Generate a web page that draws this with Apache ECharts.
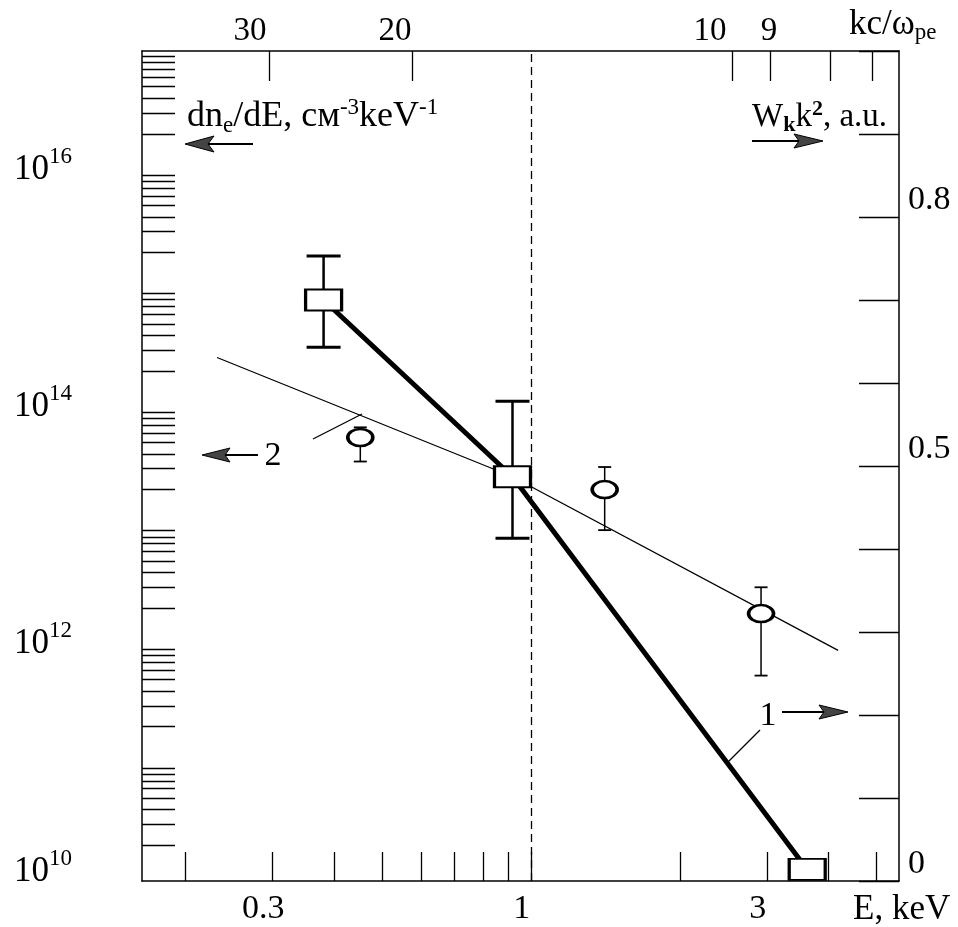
<!DOCTYPE html>
<html><head><meta charset="utf-8">
<script src="https://cdn.jsdelivr.net/npm/echarts@6/dist/echarts.min.js"></script>
<style>html,body{margin:0;padding:0;background:#fff}#c{width:958px;height:927px}</style>
</head><body><div id="c"></div>
<script>
const FONT = 'Liberation Serif';

// ---------------- data ----------------
// bottom axis: energy E, keV (log)
const eTickValues  = [0.2, 0.3, 0.4, 0.5, 0.6, 0.7, 0.8, 0.9, 1, 2, 3, 4, 5];
const eLabelValues = [0.3, 1, 3];
const eLabelTexts  = ['0.3', '1', '3'];
// top axis: kc/ωpe ticks (placed at the energies they correspond to)
const kTickE       = [0.296, 0.577, 2.548, 3.045, 4.026, 4.896];
const kLabelE      = [0.2705, 0.5313, 2.303, 3.031];
const kLabelTexts  = ['30', '20', '10', '9'];
// left axis: dn/dE (log)
const nLabelValues = [1e10, 1e12, 1e14, 1e16];
const nLabelExp    = ['10', '12', '14', '16'];
const nMinorMult   = [2, 3, 4, 5, 6, 7, 8, 9];
const nDecades     = [1e10, 1e11, 1e12, 1e13, 1e14, 1e15, 1e16];
// right axis: Wk k^2, a.u.
const wLabelValues = [0, 0.5, 0.8];

// curve 1 (squares, right axis)
const sqE     = [0.381, 0.918, 3.62];
const sqW     = [0.700, 0.487, 0.014];
const sqWLow  = [0.643, 0.413, null];
const sqWHigh = [0.753, 0.578, null];

// curve 2 (circles, left axis)
const cirE     = [0.452, 1.41, 2.92];
const cirN     = [5.5e13, 2.0e13, 1.8e12];
const cirNLow  = [3.45e13, 9.1e12, 5.4e11];
const cirNHigh = [6.7e13, 3.1e13, 3.0e12];

// curve 2 fit line
const fitE = [0.232, 0.916, 4.18];
const fitN = [2.6e14, 2.58e13, 8.8e11];

// ---------------- build ----------------
const nTickValues = [];
nDecades.forEach(d => nMinorMult.forEach(m => nTickValues.push(m * d)));

function nearestText(values, texts, v, isLog) {
  let best = 0, bd = Infinity;
  values.forEach((x, i) => {
    const d = isLog ? Math.abs(Math.log(x) - Math.log(v)) : Math.abs(x - v);
    if (d < bd) { bd = d; best = i; }
  });
  return texts[best];
}

function errRender(capW, lw, capLw) {
  return function (params, api) {
    const x = api.value(0), lo = api.value(1), hi = api.value(2);
    const pLo = api.coord([x, lo]), pHi = api.coord([x, hi]);
    return {
      type: 'group',
      children: [
        { type: 'line', shape: { x1: pLo[0], y1: pLo[1], x2: pHi[0], y2: pHi[1] }, style: { stroke: '#000', lineWidth: lw } },
        { type: 'line', shape: { x1: pLo[0] - capW / 2, y1: pLo[1], x2: pLo[0] + capW / 2, y2: pLo[1] }, style: { stroke: '#000', lineWidth: capLw } },
        { type: 'line', shape: { x1: pHi[0] - capW / 2, y1: pHi[1], x2: pHi[0] + capW / 2, y2: pHi[1] }, style: { stroke: '#000', lineWidth: capLw } }
      ]
    };
  };
}

const sqErrData = sqE.map((e, i) => sqWLow[i] == null ? null : [e, sqWLow[i], sqWHigh[i]]).filter(Boolean);
const cirErrData = cirE.map((e, i) => [e, cirNLow[i], cirNHigh[i]]);

const axisLineStyle = { color: '#000', width: 1.5 };
const tickLineStyle = { color: '#000', width: 1.3 };

const chart = echarts.init(document.getElementById('c'), null, { renderer: 'canvas' });

const tk = (fs, extra) => Object.assign({ fontSize: fs, fontFamily: FONT, color: '#000' }, extra || {});

const option = {
  backgroundColor: '#fff',
  animation: false,
  textStyle: { fontFamily: FONT },
  grid: { left: 142, right: 59, top: 51, bottom: 45, containLabel: false },
  xAxis: [
    {
      type: 'log', position: 'bottom', min: 0.1636, max: 5.55,
      axisLine: { show: true, lineStyle: axisLineStyle },
      axisTick: { show: true, inside: true, length: 29, customValues: eTickValues, lineStyle: tickLineStyle },
      minorTick: { show: false }, splitLine: { show: false },
      axisLabel: {
        customValues: eLabelValues, margin: 11, fontSize: 34, fontFamily: FONT, color: '#000',
        padding: [0, 18, 0, 0],
        formatter: v => nearestText(eLabelValues, eLabelTexts, v, true)
      },
      name: 'E, keV', nameLocation: 'end', nameGap: -46,
      nameTextStyle: { fontSize: 35, fontFamily: FONT, color: '#000', verticalAlign: 'top', align: 'left', padding: [11, 0, 0, 0] }
    },
    {
      type: 'log', position: 'top', min: 0.1636, max: 5.55,
      axisLine: { show: true, lineStyle: axisLineStyle },
      axisTick: { show: true, inside: true, length: 30, customValues: kTickE, lineStyle: tickLineStyle },
      minorTick: { show: false }, splitLine: { show: false },
      axisLabel: {
        customValues: kLabelE, margin: 3, fontSize: 33, fontFamily: FONT, color: '#000',
        formatter: v => nearestText(kLabelE, kLabelTexts, v, true)
      },
      name: '{m|kc/ω}{s|pe}', nameLocation: 'end', nameGap: -50,
      nameTextStyle: {
        fontFamily: FONT,
        verticalAlign: 'bottom', align: 'left', padding: [0, 0, 7, 0],
        rich: {
          m: tk(35, { lineHeight: 38 }),
          s: tk(23, { lineHeight: 22, padding: [16, 0, 0, 0] })
        }
      }
    }
  ],
  yAxis: [
    {
      type: 'log', position: 'left', min: 1e10, max: 1e17,
      axisLine: { show: true, lineStyle: axisLineStyle },
      axisTick: { show: true, inside: true, length: 33, customValues: nTickValues, lineStyle: tickLineStyle },
      minorTick: { show: false }, splitLine: { show: false },
      axisLabel: {
        customValues: nLabelValues, margin: 70, align: 'right', color: '#000', fontFamily: FONT,
        formatter: v => {
          const e = nearestText(nLabelValues, nLabelExp, v, true);
          return e === '10' ? '{b0|10}{s0|' + e + '}' : '{b|10}{s|' + e + '}';
        },
        rich: {
          b: tk(35, { lineHeight: 38 }),
          s: tk(23, { lineHeight: 22, padding: [0, 0, 26, 0] }),
          b0: tk(35, { lineHeight: 38, padding: [0, 0, 18, 0] }),
          s0: tk(23, { lineHeight: 22, padding: [0, 0, 44, 0] })
        }
      }
    },
    {
      type: 'value', position: 'right', min: 0, max: 1, interval: 0.1,
      axisLine: { show: true, lineStyle: axisLineStyle },
      axisTick: { show: true, inside: true, length: 40, lineStyle: tickLineStyle },
      splitLine: { show: false },
      axisLabel: {
        customValues: wLabelValues, margin: 9, fontSize: 34, fontFamily: FONT, color: '#000',
        verticalAlign: 'bottom',
        formatter: v => String(Math.round(v * 10) / 10)
      }
    }
  ],
  series: [
    {
      name: 'err1', type: 'custom', xAxisIndex: 0, yAxisIndex: 1, z: 2,
      renderItem: errRender(34, 2.5, 3), encode: { x: 0, y: [1, 2] }, data: sqErrData, silent: true
    },
    {
      name: 'curve1', type: 'line', xAxisIndex: 0, yAxisIndex: 1, z: 3,
      data: sqE.map((e, i) => [e, sqW[i]]),
      symbol: 'rect', symbolSize: [36, 21], showAllSymbol: true,
      itemStyle: { color: '#fff', borderColor: '#000', borderWidth: 2.5 },
      lineStyle: { color: '#000', width: 5 },
      markLine: {
        silent: true, symbol: ['none', 'none'], label: { show: false },
        lineStyle: { color: '#000', width: 1.3, type: [8, 5] },
        data: [{ xAxis: 1 }]
      }
    },
    {
      name: 'err2', type: 'custom', xAxisIndex: 0, yAxisIndex: 0, z: 2,
      renderItem: errRender(13, 1.5, 1.8), encode: { x: 0, y: [1, 2] }, data: cirErrData, silent: true
    },
    {
      name: 'fit2', type: 'line', xAxisIndex: 0, yAxisIndex: 0, z: 2,
      data: fitE.map((e, i) => [e, fitN[i]]),
      symbol: 'none', lineStyle: { color: '#000', width: 1.3 }
    },
    {
      name: 'curve2', type: 'scatter', xAxisIndex: 0, yAxisIndex: 0, z: 5,
      data: cirE.map((e, i) => [e, cirN[i]]),
      symbol: 'circle', symbolSize: [25, 17],
      itemStyle: { color: '#fff', borderColor: '#000', borderWidth: 3, opacity: 1 }
    }
  ],
  graphic: [
    // header left
    {
      type: 'text', x: 187, y: 117, z: 10,
      style: {
        text: '{m|dn}{sb|e}{m|/dE, см}{sp|-3}{m|keV}{sp|-1}',
        fontSize: 36, fontFamily: FONT,
        align: 'left', verticalAlign: 'middle', textAlign: 'left', textVerticalAlign: 'middle',
        rich: {
          m: tk(36, { lineHeight: 40, fill: '#000' }),
          sb: tk(23, { lineHeight: 22, padding: [18, 0, 0, 0], fill: '#000' }),
          sp: tk(23, { lineHeight: 22, padding: [0, 0, 18, 0], fill: '#000' })
        }
      }
    },
    // header right
    {
      type: 'text', x: 752, y: 117, z: 10,
      style: {
        text: '{m|W}{sb|k}{m|k}{sp|2}{m|, a.u.}',
        fontSize: 33, fontFamily: FONT,
        align: 'left', verticalAlign: 'middle', textAlign: 'left', textVerticalAlign: 'middle',
        rich: {
          m: tk(33, { lineHeight: 38, fill: '#000' }),
          sb: tk(22, { lineHeight: 22, padding: [16, 0, 0, 0], fontWeight: 'bold', fill: '#000' }),
          sp: tk(22, { lineHeight: 22, padding: [0, 0, 16, 0], fontWeight: 'bold', fill: '#000' })
        }
      }
    },
    // labels "2" and "1"
    { type: 'text', x: 273, y: 456, z: 10, style: { text: '2', fontSize: 34, fontFamily: FONT, fill: '#000', align: 'center', verticalAlign: 'middle', textAlign: 'center', textVerticalAlign: 'middle' } },
    { type: 'text', x: 768, y: 716, z: 10, style: { text: '1', fontSize: 34, fontFamily: FONT, fill: '#000', align: 'center', verticalAlign: 'middle', textAlign: 'center', textVerticalAlign: 'middle' } },
    // leader lines
    { type: 'line', z: 10, shape: { x1: 313, y1: 439, x2: 362, y2: 414 }, style: { stroke: '#000', lineWidth: 1.3 } },
    { type: 'line', z: 10, shape: { x1: 727, y1: 763, x2: 760, y2: 730 }, style: { stroke: '#000', lineWidth: 1.3 } },
    // arrows: header left
    { type: 'line', z: 10, shape: { x1: 206, y1: 144, x2: 253, y2: 144 }, style: { stroke: '#000', lineWidth: 2 } },
    { type: 'polygon', z: 10, shape: { points: [[185, 144], [214, 136], [208, 144], [214, 152]] }, style: { fill: '#444', stroke: '#000', lineWidth: 1 } },
    // arrow header right
    { type: 'line', z: 10, shape: { x1: 752, y1: 141, x2: 800, y2: 141 }, style: { stroke: '#000', lineWidth: 2 } },
    { type: 'polygon', z: 10, shape: { points: [[823, 141], [794, 134], [799, 141], [794, 148]] }, style: { fill: '#444', stroke: '#000', lineWidth: 1 } },
    // arrow "2"
    { type: 'line', z: 10, shape: { x1: 222, y1: 455, x2: 258, y2: 455 }, style: { stroke: '#000', lineWidth: 2 } },
    { type: 'polygon', z: 10, shape: { points: [[202, 455], [230, 448], [225, 455], [230, 462]] }, style: { fill: '#444', stroke: '#000', lineWidth: 1 } },
    // arrow "1"
    { type: 'line', z: 10, shape: { x1: 782, y1: 712, x2: 826, y2: 712 }, style: { stroke: '#000', lineWidth: 2 } },
    { type: 'polygon', z: 10, shape: { points: [[848, 712], [819, 705], [824, 712], [819, 719]] }, style: { fill: '#444', stroke: '#000', lineWidth: 1 } }
  ]
};
chart.setOption(option);
</script>
</body></html>
